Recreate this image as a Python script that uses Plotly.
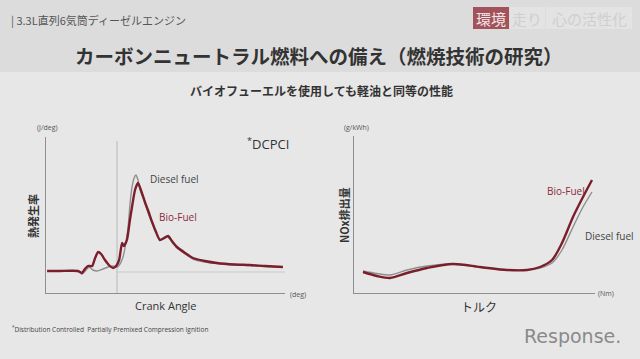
import plotly.graph_objects as go

W, H = 640, 359

# ---- Left chart: heat release rate vs crank angle ----
crank_bio = [-23.3, -19, -13, -11.7, -10.7, -9.7, -8.3, -7.3, -6.3, -5.3, -4, -2.7, -1.3, -0.3, 0.7, 1.7, 2.3, 3.3,
             4.3, 5, 6, 7, 8.3, 9.3, 10.3, 11.7, 13, 14.3, 15.7, 17, 18.3, 20, 22.7, 25.3, 29.3, 33.3, 39.3, 44.3,
             49.3, 55.3]
hrr_bio = [0.5, 0.5, 0.5, -0.5, 1.5, 3, 3, 7, 10, 9, 6, 3.5, 2, 3, 6, 14.5, 13, 16,
           26, 32.5, 41, 44.5, 39.5, 35, 31, 25, 20, 16, 17, 18, 15.5, 12.5, 9.5, 7, 5.5, 4.5, 3.75, 3.5,
           3, 2.5]
crank_diesel = [-23.3, -13, -11.7, -10.3, -9.3, -8, -6.7, -4.7, -3, -1.3, 0, 1, 2, 3, 3.7, 4.3, 5, 5.7, 6.3, 7,
                7.7, 8.7, 9.7, 11, 12.7, 14.3, 15.7, 17, 18.3, 20, 22.7, 25.3, 29.3, 33.3, 39.3, 44.3, 49.3, 55.3]
hrr_diesel = [0.5, 0.5, -1, 1, 2.5, 1, 0.5, 1.5, 2.5, 3, 2.5, 4, 7.5, 15, 22.5, 33.5, 42.5, 47, 48.5, 46,
              41, 37, 32.5, 27, 21, 16, 16.75, 17.5, 15, 12, 9, 6.5, 5, 4.25, 3.5, 3.25, 2.75, 2.5]

# ---- Right chart: NOx vs torque ----
torque = [22.5, 57.5, 90, 132.5, 182.5, 247.5, 315, 382.5, 432.5, 465, 495, 520, 547.5, 572.5, 595]
nox_bio = [2.1, 1.7, 1.5, 2.0, 2.5, 2.9, 2.6, 2.3, 2.3, 2.6, 3.3, 5.0, 7.6, 9.6, 11.3]
nox_diesel = [2.2, 1.95, 1.8, 2.3, 2.7, 2.9, 2.6, 2.3, 2.3, 2.5, 3.0, 4.3, 6.6, 8.6, 10.1]

BIO = "#7b1e2c"
DIESEL = "#8e8e8e"
JP = "Noto Sans CJK JP"
LAT = "Open Sans"


def px(x):
    return x / W


def py(y):
    return 1 - y / H


fig = go.Figure()
fig.add_trace(go.Scatter(x=crank_diesel, y=hrr_diesel, mode="lines", line=dict(color=DIESEL, width=1.4, shape="spline", smoothing=0.6),
                         xaxis="x", yaxis="y", showlegend=False, hoverinfo="skip"))
fig.add_trace(go.Scatter(x=crank_bio, y=hrr_bio, mode="lines", line=dict(color=BIO, width=2.4, shape="spline", smoothing=0.6),
                         xaxis="x", yaxis="y", showlegend=False, hoverinfo="skip"))
fig.add_trace(go.Scatter(x=torque, y=nox_diesel, mode="lines", line=dict(color=DIESEL, width=1.4, shape="spline", smoothing=0.8),
                         xaxis="x2", yaxis="y2", showlegend=False, hoverinfo="skip"))
fig.add_trace(go.Scatter(x=torque, y=nox_bio, mode="lines", line=dict(color=BIO, width=2.4, shape="spline", smoothing=0.8),
                         xaxis="x2", yaxis="y2", showlegend=False, hoverinfo="skip"))

axis_common = dict(showgrid=False, zeroline=False, showticklabels=False, ticks="", showline=True,
                   linecolor="#8f8f8f", linewidth=1.3, fixedrange=True)

shapes = [
    dict(type="rect", xref="paper", yref="paper", x0=0, x1=1, y0=py(72), y1=1, fillcolor="#dcdcdc", line=dict(width=0), layer="below"),
    # tag boxes
    dict(type="rect", xref="paper", yref="paper", x0=px(473), x1=px(509), y0=py(29), y1=py(7), fillcolor="#a3525b", line=dict(width=0)),
    dict(type="rect", xref="paper", yref="paper", x0=px(510), x1=px(545), y0=py(29), y1=py(7), fillcolor="#e3e3e3", line=dict(width=0)),
    dict(type="rect", xref="paper", yref="paper", x0=px(546), x1=px(632), y0=py(29), y1=py(7), fillcolor="#e3e3e3", line=dict(width=0)),
    # reference lines in left chart
    dict(type="line", xref="x", yref="y", x0=0, x1=0, y0=-10.5, y1=65.5, line=dict(color="#b8b8b8", width=1), layer="below"),
    dict(type="line", xref="x", yref="y", x0=0, x1=56, y0=0, y1=0, line=dict(color="#c8c8c8", width=1), layer="below"),
]


def ann(text, x, y, size, color="#333", font=LAT, xanchor="center", yanchor="middle", angle=0, bold=False):
    t = f"<b>{text}</b>" if bold else text
    return dict(text=t, x=px(x), y=py(y), xref="paper", yref="paper", xanchor=xanchor, yanchor=yanchor,
                showarrow=False, textangle=angle, font=dict(family=font, size=size, color=color))


annotations = [
    ann("| 3.3L直列6気筒ディーゼルエンジン", 9, 20, 11, "#555", JP, xanchor="left"),
    ann("カーボンニュートラル燃料への備え（燃焼技術の研究）", 319, 55, 19.5, "#333", JP, bold=True),
    ann("バイオフューエルを使用しても軽油と同等の性能", 321, 90, 12, "#333", JP, bold=True),
    ann("環境", 491, 18, 15, "#f3e6e6", JP),
    ann("走り", 527, 18, 15, "#cfcfcf", JP),
    ann("心の活性化", 589, 18, 15, "#cfcfcf", JP),
    # left chart
    ann("(J/deg)", 47, 127, 7, "#555", LAT),
    ann("熱発生率", 33, 216, 11, "#333", JP, angle=-90, bold=True),
    ann("<sup>*</sup>DCPCI", 268, 144, 13, "#333", LAT),
    ann("Diesel fuel", 148, 179, 10, "#444", LAT, xanchor="left"),
    ann("Bio-Fuel", 157, 217, 10, "#8b2a3a", LAT, xanchor="left"),
    ann("(deg)", 298, 294, 7, "#555", LAT),
    ann("Crank Angle", 166, 305, 11, "#333", LAT),
    # right chart
    ann("(g/kWh)", 356, 128, 7, "#555", LAT),
    ann("NOx排出量", 344, 215, 11, "#333", JP, angle=-90, bold=True),
    ann("Bio-Fuel", 545, 191, 10, "#8b2a3a", LAT, xanchor="left"),
    ann("Diesel fuel", 583, 236, 10, "#444", LAT, xanchor="left"),
    ann("(Nm)", 606, 293, 7, "#555", LAT),
    ann("トルク", 479, 306, 12, "#333", JP),
    # footer
    ann("<sup>*</sup>Distribution Controlled  Partially Premixed Compression Ignition", 10, 329, 6.5, "#444", LAT, xanchor="left"),
    ann("Response.", 572, 336, 19, "#8a8a8a", "DejaVu Sans"),
]

fig.update_layout(
    width=W, height=H,
    margin=dict(l=0, r=0, t=0, b=0),
    paper_bgcolor="#e7e7e7", plot_bgcolor="rgba(0,0,0,0)",
    xaxis=dict(domain=[px(46), px(285)], range=[-23.67, 56], anchor="y", **axis_common),
    yaxis=dict(domain=[py(293), py(137)], range=[-10.5, 67.5], anchor="x", **axis_common),
    xaxis2=dict(domain=[px(354), px(595)], range=[0, 602.5], anchor="y2", **axis_common),
    yaxis2=dict(domain=[py(293), py(136)], range=[0, 15.7], anchor="x2", **axis_common),
    shapes=shapes,
    annotations=annotations,
)

fig.write_html("out.html", config={"displayModeBar": False},
               post_script="document.body.style.margin='0px';document.body.style.overflow='hidden';")
